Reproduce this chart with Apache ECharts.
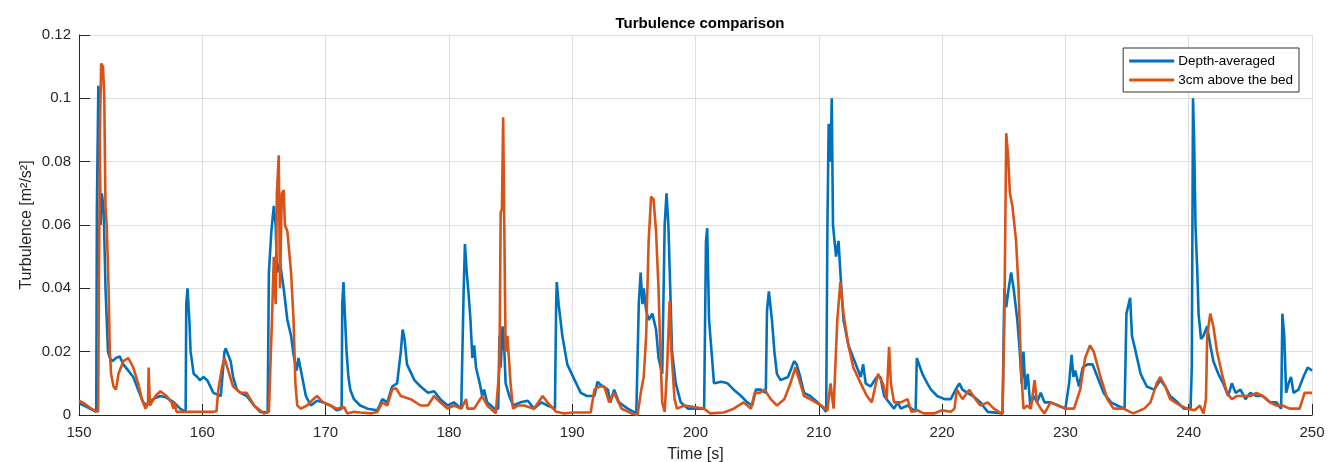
<!DOCTYPE html>
<html>
<head>
<meta charset="utf-8">
<script src="https://cdn.jsdelivr.net/npm/echarts@6/dist/echarts.min.js"></script>
<style>
html,body{margin:0;padding:0;background:#fff;}
#chart{width:1338px;height:462px;}
</style>
</head>
<body>
<div id="chart"></div>
<script>
// ---- data (time in s, turbulence in m^2/s^2) ----
const seriesNames = ['Depth-averaged', '3cm above the bed'];
const xTicks = [150, 160, 170, 180, 190, 200, 210, 220, 230, 240, 250];
const yTicks = [0, 0.02, 0.04, 0.06, 0.08, 0.1, 0.12];

const timeDA = [150.0,150.5,151.0,151.4,151.45,151.57,151.65,151.75,151.85,152.0,152.15,152.35,152.5,152.7,153.0,153.3,153.6,154.0,154.4,154.8,155.2,155.5,156.0,156.6,157.1,157.7,158.2,158.65,158.7,158.8,158.95,159.05,159.3,159.6,159.8,160.1,160.4,160.9,161.5,161.8,161.9,162.3,162.5,162.8,163.1,163.6,164.2,164.7,165.3,165.4,165.6,165.8,165.95,166.05,166.3,166.6,166.9,167.2,167.4,167.65,167.8,168.1,168.4,168.8,169.3,169.8,170.4,170.9,171.3,171.35,171.45,171.55,171.7,171.85,172.0,172.3,172.8,173.4,174.2,174.6,175.0,175.4,175.8,176.1,176.25,176.4,176.6,177.2,177.7,178.3,178.8,179.3,179.9,180.4,181.0,181.15,181.2,181.3,181.45,181.6,181.75,181.9,182.05,182.2,182.5,182.7,182.85,183.1,183.7,184.0,184.1,184.2,184.35,184.5,184.6,184.9,185.2,185.8,186.4,186.9,187.5,188.0,188.6,188.7,188.75,188.9,189.2,189.6,190.2,190.7,191.2,191.8,192.05,192.3,192.9,193.1,193.4,193.8,194.5,195.2,195.4,195.55,195.7,195.8,196.0,196.2,196.5,196.8,197.0,197.3,197.5,197.65,197.8,197.95,198.1,198.4,198.8,199.4,199.9,200.7,200.85,200.95,201.1,201.3,201.5,202.1,202.6,203.1,203.7,204.2,204.6,204.9,205.3,205.7,205.8,205.95,206.2,206.4,206.6,206.9,207.5,208.0,208.2,208.5,208.8,209.3,209.9,210.4,210.6,210.7,210.8,210.95,211.05,211.15,211.3,211.4,211.6,211.75,212.0,212.4,212.8,213.4,213.6,213.8,214.2,214.7,215.0,215.3,215.7,216.1,216.4,216.65,217.2,217.85,217.95,218.1,218.4,218.8,219.1,219.6,220.2,220.7,221.1,221.4,221.65,222.05,222.5,223.1,223.7,224.9,225.05,225.2,225.4,225.6,225.8,226.1,226.3,226.45,226.6,226.75,226.95,227.15,227.45,227.7,228.0,228.3,228.8,229.4,230.0,230.3,230.5,230.65,230.8,231.1,231.4,231.8,232.2,232.6,233.1,233.7,234.2,234.8,234.95,235.25,235.4,235.7,236.1,236.6,237.2,237.7,238.1,238.5,239.1,239.6,240.15,240.25,240.35,240.45,240.55,240.7,240.8,241.0,241.2,241.5,241.75,242.0,242.4,242.8,243.2,243.5,243.8,244.2,244.6,245.0,245.5,246.0,246.6,247.1,247.5,247.6,247.75,247.9,248.1,248.3,248.5,248.9,249.3,249.65,250.0];
const depthAvg = [0.0037,0.0028,0.0018,0.001,0.065,0.104,0.098,0.06,0.07,0.065,0.04,0.02,0.018,0.017,0.018,0.0185,0.016,0.014,0.012,0.008,0.004,0.003,0.005,0.006,0.0055,0.004,0.002,0.001,0.035,0.04,0.03,0.02,0.013,0.012,0.011,0.012,0.011,0.007,0.006,0.02,0.021,0.017,0.012,0.008,0.007,0.006,0.003,0.001,0.0008,0.045,0.058,0.066,0.06,0.045,0.048,0.04,0.03,0.025,0.019,0.014,0.018,0.012,0.006,0.003,0.0045,0.004,0.003,0.0015,0.002,0.035,0.042,0.033,0.02,0.012,0.008,0.005,0.003,0.002,0.0015,0.005,0.004,0.009,0.01,0.02,0.027,0.024,0.016,0.011,0.009,0.007,0.0075,0.005,0.003,0.004,0.002,0.002,0.04,0.054,0.045,0.038,0.03,0.018,0.022,0.015,0.01,0.006,0.008,0.004,0.002,0.002,0.025,0.015,0.028,0.02,0.01,0.006,0.003,0.004,0.0045,0.002,0.004,0.003,0.002,0.035,0.042,0.035,0.025,0.016,0.011,0.007,0.006,0.006,0.0105,0.0095,0.008,0.004,0.008,0.004,0.002,0.0005,0.035,0.045,0.035,0.04,0.033,0.03,0.032,0.027,0.018,0.013,0.06,0.07,0.06,0.04,0.02,0.01,0.004,0.002,0.002,0.002,0.055,0.059,0.03,0.02,0.01,0.0105,0.01,0.008,0.006,0.004,0.003,0.008,0.008,0.007,0.033,0.039,0.03,0.02,0.013,0.011,0.012,0.017,0.016,0.012,0.007,0.006,0.004,0.002,0.001,0.06,0.092,0.08,0.1,0.06,0.054,0.05,0.055,0.045,0.03,0.022,0.018,0.012,0.016,0.01,0.009,0.012,0.012,0.006,0.004,0.002,0.004,0.002,0.003,0.001,0.018,0.0185,0.013,0.01,0.008,0.006,0.005,0.005,0.008,0.01,0.008,0.007,0.006,0.004,0.001,0.0005,0.04,0.034,0.04,0.045,0.04,0.03,0.02,0.01,0.02,0.008,0.013,0.003,0.006,0.004,0.007,0.004,0.004,0.003,0.002,0.01,0.019,0.012,0.014,0.009,0.015,0.016,0.016,0.012,0.007,0.004,0.003,0.002,0.032,0.037,0.025,0.02,0.013,0.009,0.008,0.011,0.009,0.006,0.004,0.002,0.002,0.015,0.1,0.085,0.06,0.045,0.032,0.024,0.025,0.028,0.022,0.017,0.013,0.01,0.006,0.01,0.007,0.008,0.005,0.007,0.006,0.006,0.004,0.004,0.002,0.032,0.025,0.007,0.01,0.012,0.007,0.008,0.012,0.015,0.014];

const timeBed = [150.0,150.5,151.0,151.55,151.7,151.8,151.95,152.05,152.15,152.25,152.4,152.5,152.6,152.8,153.0,153.2,153.6,154.0,154.4,154.8,155.1,155.4,155.6,155.65,155.75,156.2,156.6,157.1,157.5,157.65,157.75,157.9,158.75,159.8,160.9,161.15,161.3,161.6,161.8,162.1,162.5,163.1,163.6,164.2,165.0,165.4,165.65,165.8,165.95,166.05,166.2,166.3,166.45,166.6,166.7,166.9,167.2,167.4,167.55,167.7,168.0,168.5,169.0,169.3,169.8,170.4,170.9,171.5,171.75,172.3,172.8,173.7,174.2,174.6,175.0,175.4,175.7,176.1,176.9,177.7,178.3,178.8,179.3,179.9,180.4,181.0,181.4,181.5,182.05,182.7,183.1,183.8,184.1,184.2,184.3,184.4,184.5,184.6,184.75,184.9,185.0,185.2,185.6,186.1,186.9,187.6,188.0,188.7,189.35,190.2,191.5,191.8,192.2,192.6,193.0,193.4,194.0,194.8,195.3,195.6,195.8,196.0,196.1,196.2,196.4,196.6,196.8,197.0,197.15,197.3,197.5,197.7,197.9,198.05,198.3,198.5,199.1,199.9,200.7,201.2,202.3,203.1,203.9,204.5,204.8,205.2,205.6,206.1,206.6,207.2,207.7,208.1,208.5,208.8,209.3,210.2,210.7,210.95,211.1,211.2,211.35,211.5,211.75,212.0,212.4,212.8,213.4,213.9,214.3,214.8,215.2,215.5,215.7,215.85,216.1,216.65,217.2,217.5,218.0,218.5,219.35,220.0,220.7,221.0,221.2,221.65,222.2,222.7,223.1,223.7,224.2,224.9,225.05,225.2,225.35,225.5,225.7,226.0,226.2,226.4,226.6,226.9,227.2,227.5,227.7,228.0,228.3,228.8,229.4,230.0,230.7,231.2,231.6,232.0,232.3,232.85,233.4,233.9,234.7,235.5,236.4,236.9,237.4,237.7,238.1,238.5,239.3,239.9,240.5,240.9,241.2,241.4,241.5,241.75,242.0,242.3,242.7,243.1,243.5,243.9,244.5,245.0,245.5,246.0,246.6,247.1,247.6,248.2,249.0,249.4,250.0];
const bed = [0.0045,0.0035,0.002,0.001,0.09,0.111,0.11,0.1,0.065,0.06,0.04,0.02,0.013,0.009,0.008,0.013,0.017,0.018,0.015,0.01,0.005,0.002,0.004,0.015,0.003,0.006,0.0075,0.006,0.004,0.002,0.004,0.001,0.001,0.001,0.001,0.0012,0.008,0.015,0.018,0.014,0.009,0.007,0.007,0.003,0.0005,0.001,0.03,0.05,0.035,0.07,0.082,0.04,0.07,0.071,0.06,0.058,0.045,0.03,0.01,0.003,0.002,0.003,0.005,0.006,0.004,0.003,0.002,0.0025,0.0005,0.001,0.0008,0.0005,0.001,0.004,0.003,0.008,0.0085,0.006,0.005,0.003,0.003,0.006,0.004,0.002,0.003,0.002,0.005,0.002,0.002,0.006,0.003,0.0005,0.015,0.064,0.065,0.094,0.094,0.02,0.025,0.025,0.01,0.002,0.003,0.003,0.002,0.006,0.004,0.001,0.0005,0.0008,0.0008,0.008,0.009,0.009,0.004,0.007,0.002,0.0005,0.0,0.008,0.012,0.025,0.04,0.055,0.069,0.068,0.058,0.04,0.02,0.004,0.001,0.015,0.036,0.02,0.005,0.002,0.003,0.0025,0.002,0.0005,0.0008,0.002,0.004,0.002,0.007,0.007,0.008,0.005,0.003,0.005,0.01,0.015,0.01,0.006,0.005,0.003,0.0015,0.01,0.005,0.002,0.002,0.03,0.042,0.032,0.022,0.015,0.01,0.006,0.004,0.013,0.01,0.005,0.0215,0.01,0.004,0.004,0.005,0.001,0.0015,0.0005,0.0005,0.0015,0.001,0.002,0.008,0.005,0.008,0.005,0.003,0.004,0.002,0.0003,0.03,0.089,0.082,0.07,0.066,0.055,0.04,0.015,0.002,0.003,0.002,0.011,0.004,0.002,0.0005,0.004,0.003,0.002,0.002,0.008,0.018,0.022,0.02,0.012,0.005,0.002,0.002,0.0005,0.002,0.004,0.01,0.012,0.009,0.005,0.003,0.002,0.0015,0.003,0.0005,0.005,0.025,0.032,0.028,0.02,0.013,0.007,0.005,0.006,0.006,0.006,0.007,0.006,0.004,0.003,0.003,0.002,0.002,0.007,0.007];

const pair = (ts, vs) => ts.map((t, i) => [t, vs[i]]);

const FONT = '"Liberation Sans", Arial, Helvetica, sans-serif';
const AX = '#262626';
const chart = echarts.init(document.getElementById('chart'), null, {renderer: 'canvas'});
chart.setOption({
  animation: false,
  backgroundColor: '#ffffff',
  title: {
    text: 'Turbulence comparison',
    left: 695, top: 11, textAlign: 'center',
    textStyle: {fontFamily: FONT, fontSize: 15, fontWeight: 'bold', color: '#000'}
  },
  legend: {
    orient: 'vertical',
    right: 39, top: 48,
    backgroundColor: '#fff',
    borderColor: '#333', borderWidth: 1, borderRadius: 0,
    padding: [6, 6, 5, 6],
    itemWidth: 45, itemHeight: 3, itemGap: 5,
    icon: 'rect',
    textStyle: {fontFamily: FONT, fontSize: 13.5, color: '#000', padding: [0, 0, 0, -1]},
    data: seriesNames
  },
  grid: {left: 79, right: 26, top: 35, bottom: 47, containLabel: false, outerBoundsMode: 'none'},
  xAxis: {
    type: 'value', min: xTicks[0], max: xTicks[xTicks.length - 1], interval: 10,
    name: 'Time [s]', nameLocation: 'middle', nameGap: 32, nameMoveOverlap: false,
    nameTextStyle: {fontFamily: FONT, fontSize: 16, color: AX},
    axisLine: {show: true, onZero: false, lineStyle: {color: AX, width: 1}},
    axisTick: {show: true, inside: true, length: 11, lineStyle: {color: AX}},
    axisLabel: {fontFamily: FONT, fontSize: 15, color: AX, margin: 10},
    splitLine: {show: true, lineStyle: {color: '#dedede', width: 1}}
  },
  yAxis: {
    type: 'value', min: yTicks[0], max: yTicks[yTicks.length - 1], interval: 0.02,
    name: 'Turbulence [m²/s²]', nameLocation: 'middle', nameGap: 44, nameMoveOverlap: false,
    nameTextStyle: {fontFamily: FONT, fontSize: 16, color: AX},
    axisLine: {show: true, lineStyle: {color: AX, width: 1}},
    axisTick: {show: true, inside: true, length: 11, lineStyle: {color: AX}},
    axisLabel: {fontFamily: FONT, fontSize: 15, color: AX, margin: 8,
      formatter: v => String(Math.round(v * 100) / 100)},
    splitLine: {show: true, lineStyle: {color: '#dedede', width: 1}}
  },
  series: [
    {name: seriesNames[0], type: 'line', data: pair(timeDA, depthAvg), showSymbol: false, symbol: 'none',
     lineStyle: {color: '#0072BD', width: 2.6}, itemStyle: {color: '#0072BD'}, z: 2},
    {name: seriesNames[1], type: 'line', data: pair(timeBed, bed), showSymbol: false, symbol: 'none',
     lineStyle: {color: '#D95319', width: 2.6}, itemStyle: {color: '#D95319'}, z: 3}
  ]
});
</script>
</body>
</html>
